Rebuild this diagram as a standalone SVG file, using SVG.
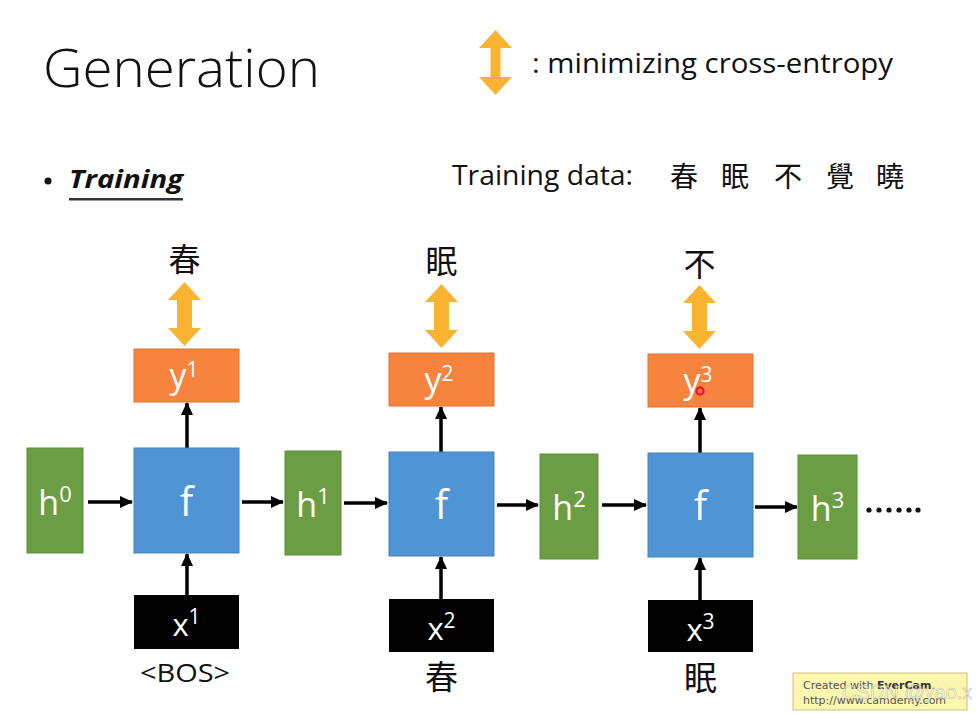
<svg xmlns="http://www.w3.org/2000/svg" width="976" height="714" viewBox="0 0 976 714">
<defs>
<style>
.t{font-family:"Open Sans","Noto Sans","Liberation Sans",sans-serif;fill:#111}
.lab{font-family:"Open Sans","Noto Sans","Liberation Sans",sans-serif;fill:#fff;text-anchor:middle}
.cjk{font-family:"Noto Sans CJK TC","Noto Sans CJK SC",sans-serif;fill:#111;text-anchor:middle}
.g{fill:#6B9E44;stroke:#5E8E3A;stroke-width:1}
.b{fill:#4F94D4;stroke:#4583BE;stroke-width:1}
.o{fill:#F6843E;stroke:#E0722E;stroke-width:1}
.k{fill:#000}
.da{fill:#FAB432}
.c{stroke:#000;stroke-width:3.5;fill:none;marker-end:url(#ah)}
</style>
<marker id="ah" markerUnits="userSpaceOnUse" markerWidth="14" markerHeight="14" refX="12" refY="7" orient="auto">
<path d="M0,1 L13,7 L0,13 Z" fill="#000"/>
</marker>
<path id="dbl" d="M0,0 L16.5,18 L7.5,18 L7.5,46 L16.5,46 L0,64 L-16.5,46 L-7.5,46 L-7.5,18 L-16.5,18 Z"/>
</defs>

<g id="header">
<text class="t" x="43" y="87" font-size="54" font-weight="300" textLength="277" lengthAdjust="spacingAndGlyphs">Generation</text>
<path class="da" d="M495.5,30 L512,48 L500.5,48 L500.5,77 L512,77 L495.5,95 L479,77 L490.5,77 L490.5,48 L479,48 Z"/>
<text class="t" x="532" y="73" font-size="28" textLength="361" lengthAdjust="spacingAndGlyphs">: minimizing cross-entropy</text>
<circle cx="48" cy="181" r="3.5" fill="#111"/>
<text class="t" x="69" y="188" font-size="25" font-weight="700" font-style="italic" textLength="114" lengthAdjust="spacingAndGlyphs">Training</text>
<rect x="69" y="198" width="114" height="2.5" fill="#333"/>
<text class="t" x="452" y="185" font-size="28" textLength="181" lengthAdjust="spacingAndGlyphs">Training data:</text>
<text class="cjk" font-size="28" y="187"><tspan x="684">春</tspan><tspan x="735">眠</tspan><tspan x="788">不</tspan><tspan x="840">覺</tspan><tspan x="890">曉</tspan></text>
</g>

<g id="connectors">
<line class="c" x1="88" y1="502" x2="132" y2="502"/>
<line class="c" x1="242" y1="502" x2="283" y2="502"/>
<line class="c" x1="344" y1="503" x2="387" y2="503"/>
<line class="c" x1="497" y1="505" x2="538" y2="505"/>
<line class="c" x1="602" y1="505" x2="646" y2="505"/>
<line class="c" x1="755" y1="507" x2="797" y2="507"/>
<line class="c" x1="187" y1="448" x2="187" y2="403"/>
<line class="c" x1="187" y1="595" x2="187" y2="554"/>
<line class="c" x1="441" y1="452" x2="441" y2="407"/>
<line class="c" x1="441" y1="599" x2="441" y2="557"/>
<line class="c" x1="700" y1="453" x2="700" y2="408"/>
<line class="c" x1="700" y1="600" x2="700" y2="558"/>
<use href="#dbl" class="da" x="184.5" y="282"/>
<use href="#dbl" class="da" x="441.5" y="284"/>
<use href="#dbl" class="da" x="699.5" y="285"/>
</g>

<g id="h0"><rect class="g" x="27" y="448" width="56" height="105"/><text class="lab" x="55" y="515" font-size="34">h<tspan dy="-13" font-size="22">0</tspan></text></g>
<g id="f1"><rect class="b" x="134" y="448" width="105" height="105"/><text class="lab" x="186.5" y="516" font-size="40">f</text></g>
<g id="y1"><rect class="o" x="134" y="349" width="105" height="53"/><text class="lab" x="184" y="388" font-size="34">y<tspan dy="-11" font-size="21">1</tspan></text><text class="cjk" x="184.5" y="271" font-size="32">春</text></g>
<g id="x1"><rect class="k" x="134" y="595" width="105" height="54"/><text class="lab" x="186.5" y="636" font-size="31">x<tspan dy="-12" font-size="21">1</tspan></text><text class="t" x="140" y="682" font-size="26" textLength="90" lengthAdjust="spacingAndGlyphs">&lt;BOS&gt;</text></g>
<g id="h1"><rect class="g" x="285" y="451" width="56" height="104"/><text class="lab" x="313" y="517" font-size="34">h<tspan dy="-13" font-size="22">1</tspan></text></g>

<g id="f2"><rect class="b" x="389" y="452" width="105" height="104"/><text class="lab" x="441.5" y="519" font-size="40">f</text></g>
<g id="y2"><rect class="o" x="389" y="353" width="105" height="53"/><text class="lab" x="439" y="392" font-size="34">y<tspan dy="-11" font-size="21">2</tspan></text><text class="cjk" x="441.5" y="273" font-size="32">眠</text></g>
<g id="x2"><rect class="k" x="389" y="599" width="105" height="53"/><text class="lab" x="441.5" y="640" font-size="31">x<tspan dy="-12" font-size="21">2</tspan></text><text class="cjk" x="441.5" y="689" font-size="33">春</text></g>
<g id="h2"><rect class="g" x="540" y="454" width="58" height="105"/><text class="lab" x="569" y="520" font-size="34">h<tspan dy="-13" font-size="22">2</tspan></text></g>

<g id="f3"><rect class="b" x="648" y="453" width="105" height="104"/><text class="lab" x="700.5" y="520" font-size="40">f</text></g>
<g id="y3"><rect class="o" x="648" y="354" width="105" height="53"/><text class="lab" x="698" y="393" font-size="34">y<tspan dy="-11" font-size="21">3</tspan></text><circle cx="700" cy="391" r="6" fill="#ff6060" opacity="0.5"/><circle cx="700" cy="391" r="3.5" fill="none" stroke="#e8141e" stroke-width="2"/><text class="cjk" x="699.5" y="276" font-size="32">不</text></g>
<g id="x3"><rect class="k" x="648" y="600" width="105" height="52"/><text class="lab" x="700.5" y="641" font-size="31">x<tspan dy="-12" font-size="21">3</tspan></text><text class="cjk" x="700.5" y="690" font-size="33">眠</text></g>
<g id="h3"><rect class="g" x="798" y="455" width="59" height="104"/><text class="lab" x="827.5" y="521" font-size="34">h<tspan dy="-13" font-size="22">3</tspan></text></g>
<g id="dots" fill="#111"><circle cx="869" cy="510" r="2.6"/><circle cx="879" cy="510" r="2.6"/><circle cx="889" cy="510" r="2.6"/><circle cx="899" cy="510" r="2.6"/><circle cx="909" cy="510" r="2.6"/><circle cx="918" cy="510" r="2.6"/></g>

<g id="watermark">
<rect x="793" y="673" width="174" height="37" fill="#FBF7AE" stroke="#C9C27E" stroke-width="1"/>
<text x="803" y="689" font-family="'DejaVu Sans',sans-serif" font-size="11" fill="#555">Created with <tspan font-weight="700" fill="#333">EverCam</tspan>.</text>
<text x="803" y="704" font-family="'DejaVu Sans',sans-serif" font-size="11" fill="#555">http://www.camdemy.com</text>
<text x="842" y="699" font-family="'Liberation Sans',sans-serif" font-size="20" fill="#ffffff" fill-opacity="0.55" stroke="#888" stroke-opacity="0.5" stroke-width="0.6">CSDN @yao.x</text>
</g>
</svg>
